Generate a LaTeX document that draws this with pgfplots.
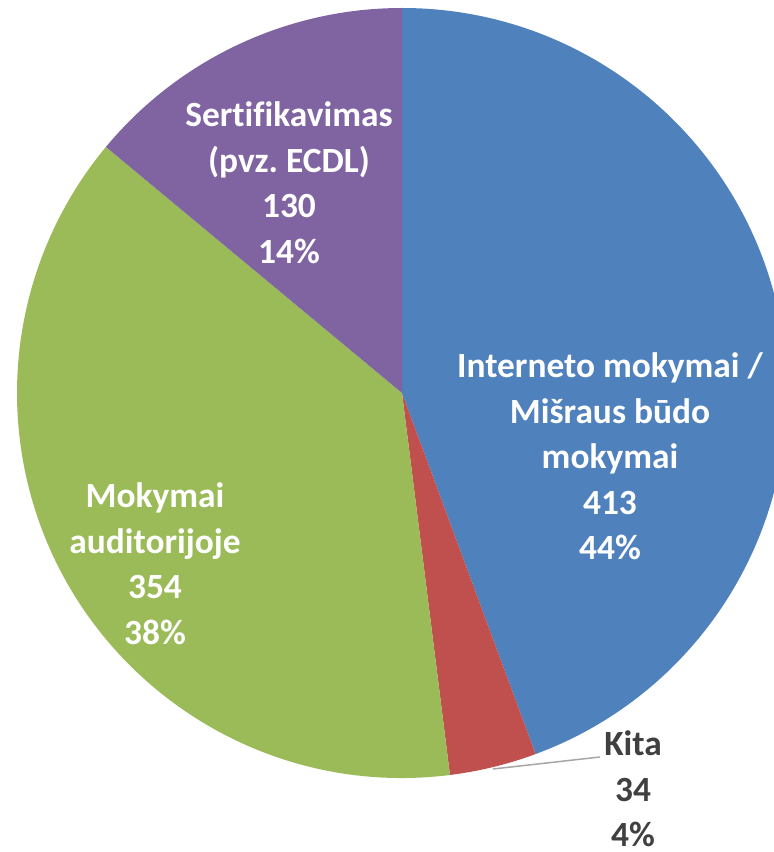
\documentclass[border=0pt]{standalone}
\usepackage{pgfplots}
\pgfplotsset{compat=1.18}
\usepackage{pgfplotstable}
\usepackage{fontspec}
\setmainfont{Carlito}[Ligatures=NoCommon]
\frenchspacing
\definecolor{cBlue}{HTML}{4F81BD}
\definecolor{cRed}{HTML}{C0504D}
\definecolor{cGreen}{HTML}{9BBB59}
\definecolor{cPurple}{HTML}{8064A2}
\definecolor{cText}{HTML}{404040}
\definecolor{cLeader}{HTML}{A6A6A6}

\pgfplotstableread[col sep=comma]{
name,value
Interneto,413
Kita,34
Mokymai,354
Sertifikavimas,130
}\piedata

\pgfplotstablegetelem{0}{value}\of\piedata\edef\vA{\pgfplotsretval}
\pgfplotstablegetelem{1}{value}\of\piedata\edef\vB{\pgfplotsretval}
\pgfplotstablegetelem{2}{value}\of\piedata\edef\vC{\pgfplotsretval}
\pgfplotstablegetelem{3}{value}\of\piedata\edef\vD{\pgfplotsretval}
\pgfmathsetmacro{\tot}{\vA+\vB+\vC+\vD}
\pgfmathsetmacro{\aA}{90}
\pgfmathsetmacro{\aB}{\aA-360*(\vA/\tot)}
\pgfmathsetmacro{\aC}{\aB-360*(\vB/\tot)}
\pgfmathsetmacro{\aD}{\aC-360*(\vC/\tot)}
\pgfmathsetmacro{\aE}{\aD-360*(\vD/\tot)}

\begin{document}
\begin{tikzpicture}
\useasboundingbox (0,0) rectangle (387pt,426pt);
\begin{axis}[hide axis, x=0.5pt, y=0.5pt, xmin=0, xmax=774, ymin=0, ymax=852,
  clip=true, anchor=south west, at={(0,0)}]
\def\R{192.5pt}
\fill[cBlue] (axis cs:402,459) -- ++(\aA:\R) arc[start angle=\aA, end angle=\aB, radius=\R] -- cycle;
\fill[cRed] (axis cs:402,459) -- ++(\aB:\R) arc[start angle=\aB, end angle=\aC, radius=\R] -- cycle;
\fill[cGreen] (axis cs:402,459) -- ++(\aC:\R) arc[start angle=\aC, end angle=\aD, radius=\R] -- cycle;
\fill[cPurple] (axis cs:402,459) -- ++(\aD:\R) arc[start angle=\aD, end angle=\aE, radius=\R] -- cycle;
\draw[cLeader, line width=0.75pt] (axis cs:493,83) -- (axis cs:600,95);
\begin{scope}[every node/.style={align=center, font=\bfseries\fontsize{17.7}{22.75}\selectfont, inner sep=0pt}]
\node[white] at (axis cs:610,395.5) {Interneto mokymai /\\Mišraus būdo\\mokymai\\413\\44\%};
\node[white] at (axis cs:289,669.5) {Sertifikavimas\\(pvz. ECDL)\\130\\14\%};
\node[white] at (axis cs:155,288.5) {Mokymai\\auditorijoje\\354\\38\%};
\node[cText] at (axis cs:633,63) {Kita\\34\\4\%};
\end{scope}
\end{axis}
\end{tikzpicture}
\end{document}
